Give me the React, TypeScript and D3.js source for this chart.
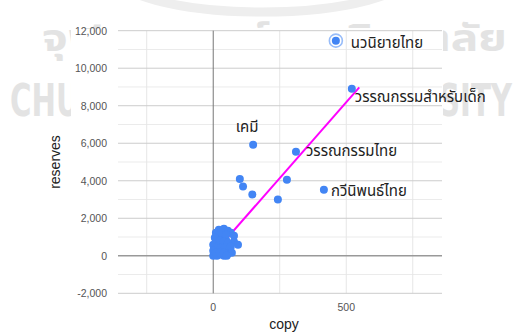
import {default as React, useEffect, useRef} from "react";
import * as d3 from "d3";

// data
const pointCopies: number[] = [
    461, 521, 311, 416, 150, 100, 112, 147, 277, 243,
    21, 40, 55, 66, 78, 18, 33, 48, 78, 93,
    10, 25, 44, 59, 3, 18, 33, 48, 63, 3,
    21, 40, 55, 70, 0, 14,
    10, 29, 48, 6, 25, 40, 55, 0, 14, 29,
    44, 0, 10, 25, 40, 51, 66
];
const pointReserves: number[] = [
    11470, 8900, 5550, 3520, 5920, 4100, 3700, 3270, 4050, 3000,
    1390, 1440, 1330, 1230, 1070, 1070, 960, 850, 750, 590,
    750, 590, 640, 480, 430, 320, 210, 270, 320, 110,
    50, 0, 110, 160, 0, 0,
    1230, 1230, 1120, 960, 800, 750, 690, 590, 480, 430,
    430, 270, 160, 160, 160, 0, 480
];
const pointLabels: string[] = [
    "นวนิยายไทย", "วรรณกรรมสำหรับเด็ก", "วรรณกรรมไทย", "กวีนิพนธ์ไทย", "เคมี"
];
const selectedLabel = "นวนิยายไทย";

const trendSlope = 16.16;
const trendIntercept = 102;
const trendRange: [number, number] = [0, 549];

const xGridTicks: number[] = [-250, 0, 250, 500, 750];
const xLabelTicks: number[] = [0, 500];
const yMajorTicks: number[] = [-2000, 0, 2000, 4000, 6000, 8000, 10000, 12000];
const yMinorTicks: number[] = [-1000, 1000, 3000, 5000, 7000, 9000, 11000];

const xTitle = "copy";
const yTitle = "reserves";
const watermarkEn = "CHULALONGKORN UNIVERSITY";
const watermarkTh = "จุฬาลงกรณ์มหาวิทยาลัย";

// where each annotation sits relative to its point
const labelPlacement: {[k: string]: {dx: number, dy: number, anchor: string}} = {
    "นวนิยายไทย": {dx: 15, dy: 7, anchor: "start"},
    "วรรณกรรมสำหรับเด็ก": {dx: 3, dy: 13, anchor: "start"},
    "วรรณกรรมไทย": {dx: 10, dy: 4, anchor: "start"},
    "กวีนิพนธ์ไทย": {dx: 7, dy: 6, anchor: "start"},
    "เคมี": {dx: -6, dy: -13, anchor: "middle"}
};

const width = 516;
const height = 334;
const blue = "#4285f4";
const thaiFont = "'Noto Sans Thai', Tahoma, 'DejaVu Sans', sans-serif";
const axisFont = "'Liberation Sans', Arial, sans-serif";

function App(): JSX.Element {
    const svgRef = useRef<SVGSVGElement>(null);

    useEffect(() => {
        if (!svgRef.current) return;
        const svg = d3.select(svgRef.current);
        svg.selectAll("*").remove();

        const x = d3.scaleLinear().domain([-358, 860]).range([118, 442]);
        const y = d3.scaleLinear().domain([-2000, 12000]).range([293.3, 30.7]);

        // faint university watermark behind the chart
        const wm = svg.append("g").attr("fill", "#e3e3e3");
        wm.append("ellipse")
            .attr("cx", 262).attr("cy", -28).attr("rx", 150).attr("ry", 40)
            .attr("fill", "none").attr("stroke", "#eeeeee").attr("stroke-width", 9);
        wm.append("text")
            .attr("x", 42).attr("y", 51)
            .attr("font-family", thaiFont).attr("font-weight", "bold").attr("font-size", 38)
            .attr("textLength", 465).attr("lengthAdjust", "spacingAndGlyphs")
            .text(watermarkTh);
        wm.append("text")
            .attr("x", 10).attr("y", 116)
            .attr("font-family", "'DejaVu Sans', sans-serif").attr("font-weight", "bold").attr("font-size", 44)
            .attr("textLength", 502).attr("lengthAdjust", "spacingAndGlyphs")
            .text(watermarkEn);

        // chart background
        svg.append("rect")
            .attr("x", 71).attr("y", 29).attr("width", 372).attr("height", height - 29)
            .attr("fill", "#fff");

        const grid = svg.append("g");
        grid.selectAll("line.ymin").data(yMinorTicks).enter().append("line")
            .attr("x1", 118).attr("x2", 442)
            .attr("y1", d => y(d)).attr("y2", d => y(d))
            .attr("stroke", "#ebebeb").attr("stroke-width", 1);
        grid.selectAll("line.xg").data(xGridTicks.filter(d => d !== 0)).enter().append("line")
            .attr("x1", d => x(d)).attr("x2", d => x(d))
            .attr("y1", y(12000)).attr("y2", y(-2000))
            .attr("stroke", "#e6e6e6").attr("stroke-width", 1);
        grid.selectAll("line.ymaj").data(yMajorTicks.filter(d => d !== 0)).enter().append("line")
            .attr("x1", 118).attr("x2", 442)
            .attr("y1", d => y(d)).attr("y2", d => y(d))
            .attr("stroke", "#cccccc").attr("stroke-width", 1);

        // zero baselines
        svg.append("line")
            .attr("x1", 118).attr("x2", 442).attr("y1", y(0)).attr("y2", y(0))
            .attr("stroke", "#999").attr("stroke-width", 1.5);
        svg.append("line")
            .attr("x1", x(0)).attr("x2", x(0)).attr("y1", y(12000)).attr("y2", y(-2000))
            .attr("stroke", "#777").attr("stroke-width", 1);

        // tick labels
        const fmt = d3.format(",");
        svg.append("g").selectAll("text").data(yMajorTicks).enter().append("text")
            .attr("x", 107).attr("y", d => y(d) + 4)
            .attr("text-anchor", "end")
            .attr("font-family", axisFont).attr("font-size", 10.5).attr("fill", "#555")
            .text(d => fmt(d).replace("−", "-"));
        svg.append("g").selectAll("text").data(xLabelTicks).enter().append("text")
            .attr("x", d => x(d)).attr("y", 311)
            .attr("text-anchor", "middle")
            .attr("font-family", axisFont).attr("font-size", 10.5).attr("fill", "#555")
            .text(d => fmt(d));

        // axis titles
        svg.append("text")
            .attr("x", 284).attr("y", 329)
            .attr("text-anchor", "middle")
            .attr("font-family", axisFont).attr("font-size", 14).attr("fill", "#222")
            .text(xTitle);
        svg.append("text")
            .attr("transform", `translate(60, ${(y(12000) + y(-2000)) / 2}) rotate(-90)`)
            .attr("text-anchor", "middle")
            .attr("font-family", axisFont).attr("font-size", 14).attr("fill", "#222")
            .text(yTitle);

        // trendline sits under the points
        svg.append("line")
            .attr("x1", x(trendRange[0])).attr("y1", y(trendIntercept + trendSlope * trendRange[0]))
            .attr("x2", x(trendRange[1])).attr("y2", y(trendIntercept + trendSlope * trendRange[1]))
            .attr("stroke", "#ff00ff").attr("stroke-width", 2);

        // points
        const pts = pointCopies.map((c, i) => ({copy: c, reserves: pointReserves[i], label: pointLabels[i]}));
        const sel = pts.find(p => p.label === selectedLabel);
        if (sel) {
            svg.append("circle")
                .attr("cx", x(sel.copy)).attr("cy", y(sel.reserves)).attr("r", 6.5)
                .attr("fill", "#fff").attr("stroke", blue).attr("stroke-opacity", 0.55).attr("stroke-width", 1.6);
        }
        svg.append("g").selectAll("circle").data(pts).enter().append("circle")
            .attr("cx", d => x(d.copy)).attr("cy", d => y(d.reserves)).attr("r", 4)
            .attr("fill", blue);

        // annotations
        svg.append("g").selectAll("text").data(pts.filter(p => p.label)).enter().append("text")
            .attr("x", d => x(d.copy) + labelPlacement[d.label].dx)
            .attr("y", d => y(d.reserves) + labelPlacement[d.label].dy)
            .attr("text-anchor", d => labelPlacement[d.label].anchor)
            .attr("font-family", thaiFont).attr("font-size", 15).attr("fill", "#222")
            .text(d => d.label);
    }, []);

    return (
        <svg
            ref={svgRef}
            width={width}
            height={height}
            style={{position: "absolute", left: 0, top: 0, background: "#fff"}}
        />
    );
}

export default App;
